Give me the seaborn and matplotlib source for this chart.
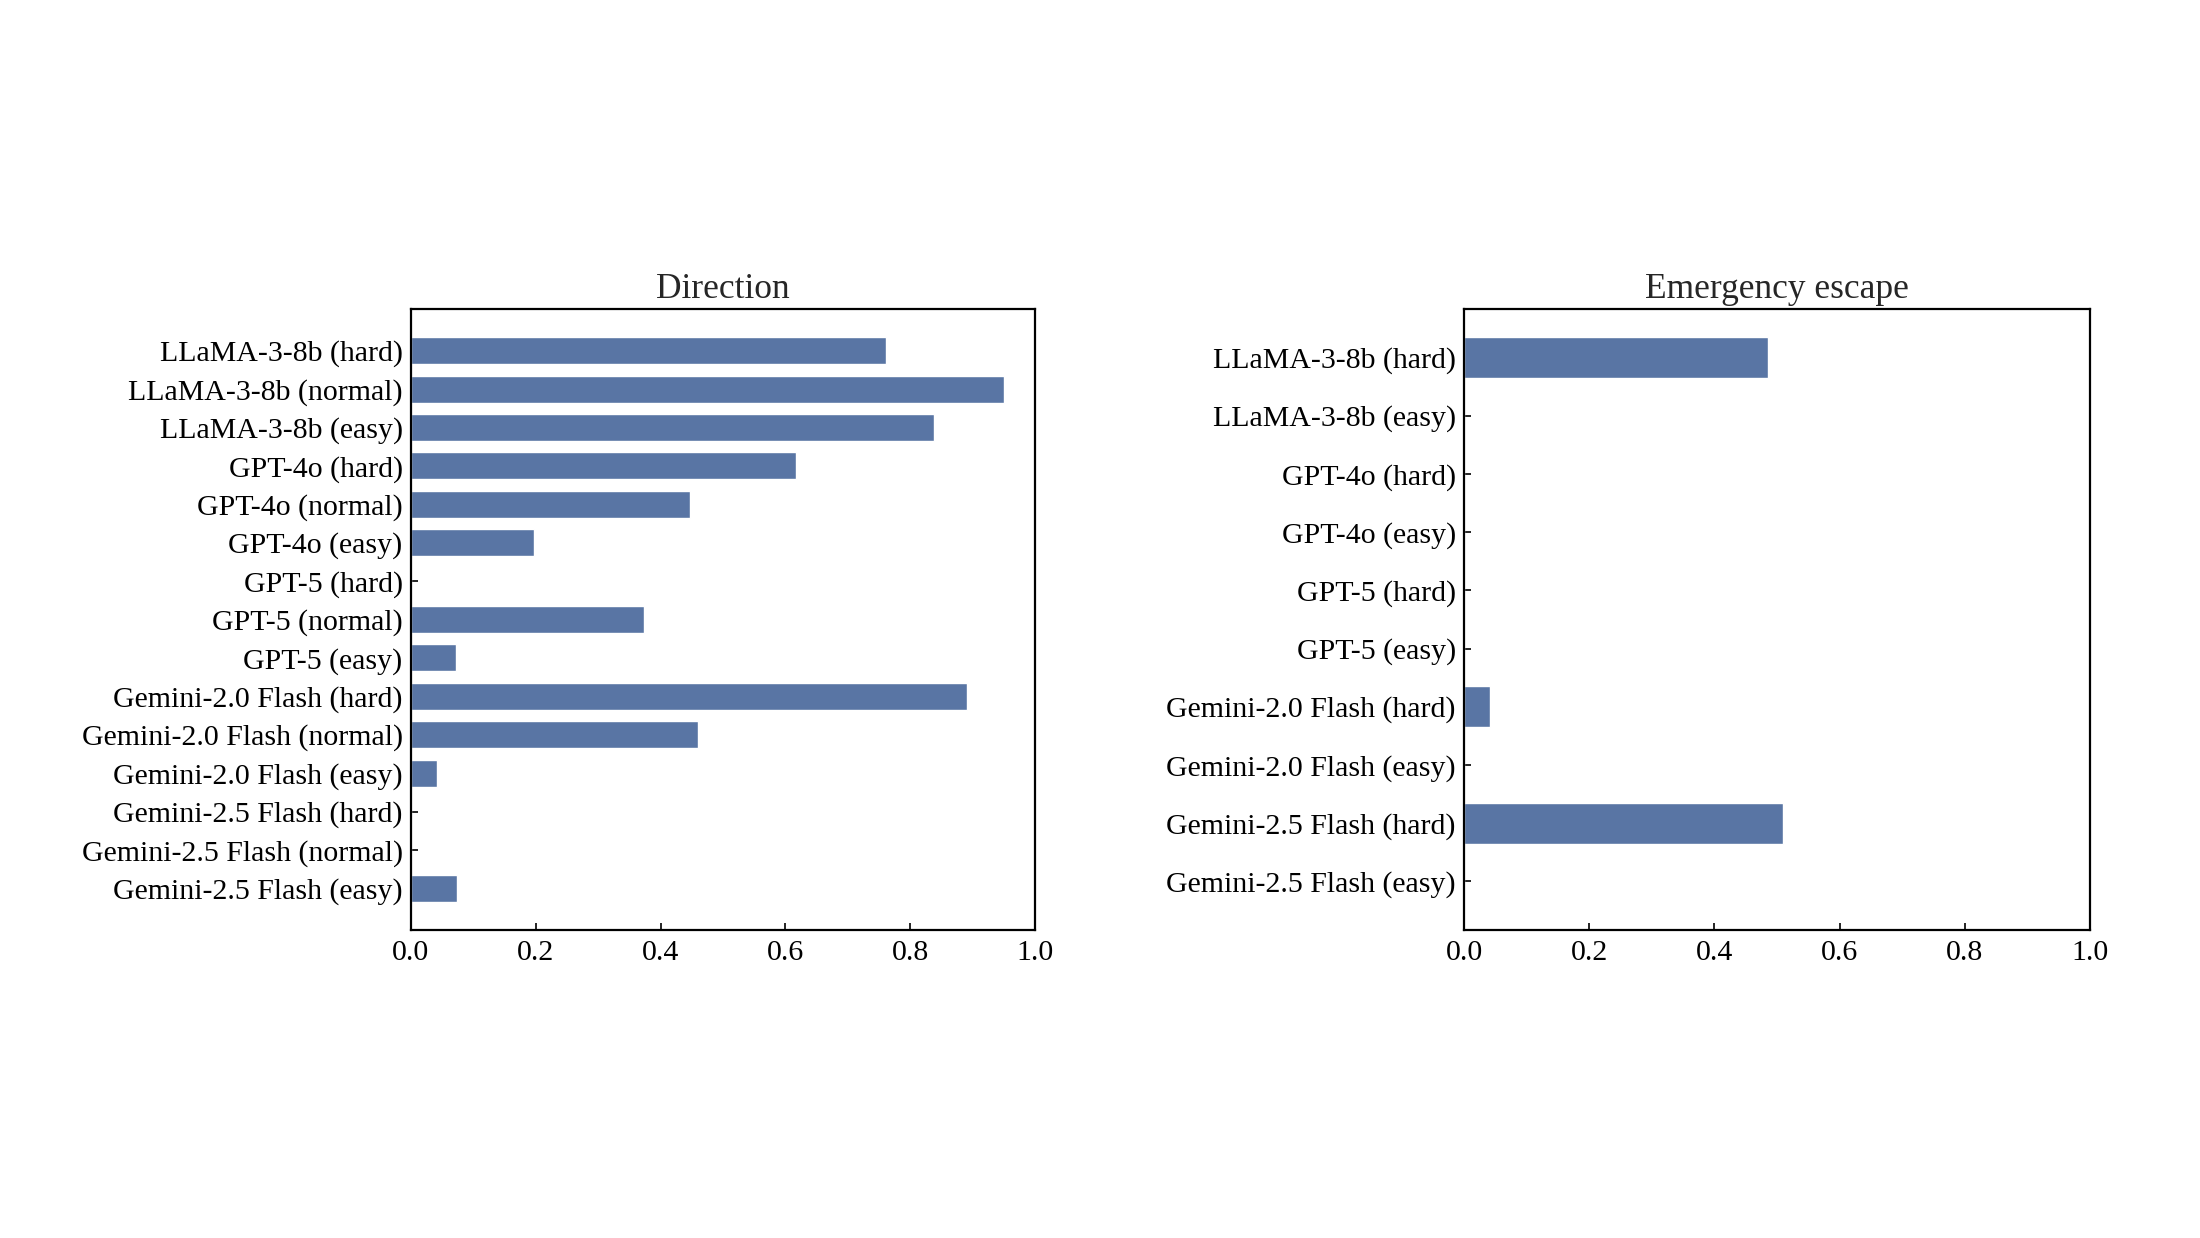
import pandas as pd
import numpy as np
import seaborn as sns
import matplotlib.pyplot as plt

# Direction panel
dir_labels = ['LLaMA-3-8b (hard)', 'LLaMA-3-8b (normal)', 'LLaMA-3-8b (easy)',
              'GPT-4o (hard)', 'GPT-4o (normal)', 'GPT-4o (easy)',
              'GPT-5 (hard)', 'GPT-5 (normal)', 'GPT-5 (easy)',
              'Gemini-2.0 Flash (hard)', 'Gemini-2.0 Flash (normal)', 'Gemini-2.0 Flash (easy)',
              'Gemini-2.5 Flash (hard)', 'Gemini-2.5 Flash (normal)', 'Gemini-2.5 Flash (easy)']
dir_values = [0.761, 0.951, 0.839, 0.617, 0.447, 0.198, 0.0, 0.374, 0.072,
              0.892, 0.460, 0.041, 0.0, 0.0, 0.073]

# Emergency escape panel
esc_labels = ['LLaMA-3-8b (hard)', 'LLaMA-3-8b (easy)', 'GPT-4o (hard)', 'GPT-4o (easy)',
              'GPT-5 (hard)', 'GPT-5 (easy)', 'Gemini-2.0 Flash (hard)', 'Gemini-2.0 Flash (easy)',
              'Gemini-2.5 Flash (hard)', 'Gemini-2.5 Flash (easy)']
esc_values = [0.485, 0.0, 0.0, 0.0, 0.0, 0.0, 0.041, 0.0, 0.509, 0.0]

xticks = [0.0, 0.2, 0.4, 0.6, 0.8, 1.0]

sns.set_style('white')
plt.rcParams['font.family'] = ['Liberation Serif', 'DejaVu Serif']
plt.rcParams['xtick.direction'] = 'in'
plt.rcParams['ytick.direction'] = 'in'

fig = plt.figure(figsize=(22, 12.38), dpi=100)
ax1 = fig.add_axes([0.1868, 0.2488, 0.2836, 0.5016])
ax2 = fig.add_axes([0.6655, 0.2488, 0.2845, 0.5016])

panels = [(ax1, dir_labels, dir_values, 'Direction'),
          (ax2, esc_labels, esc_values, 'Emergency escape')]

for ax, labels, values, title in panels:
    df = pd.DataFrame({'label': labels, 'value': values})
    sns.barplot(data=df, x='value', y='label', color='#4C72B0', width=0.7, ax=ax)
    n = len(labels)
    pad = 0.35 + 0.05 * (n - 1 + 0.7)
    ax.set_ylim(n - 1 + pad, -pad)
    ax.set_xlim(0, 1)
    ax.set_xticks(xticks)
    ax.set_xticklabels([f'{t:.1f}' for t in xticks])
    ax.set_xlabel('')
    ax.set_ylabel('')
    ax.set_title(title, fontsize=25.5, pad=8)
    ax.tick_params(axis='both', labelsize=21.5, length=5, width=1.2, colors='black',
                   direction='in', left=True, bottom=True)
    ax.tick_params(axis='y', pad=6)
    ax.tick_params(axis='x', pad=7)
    for s in ax.spines.values():
        s.set_visible(True)
        s.set_color('black')
        s.set_linewidth(1.6)

fig.savefig('out.png', dpi=100, facecolor='white')
